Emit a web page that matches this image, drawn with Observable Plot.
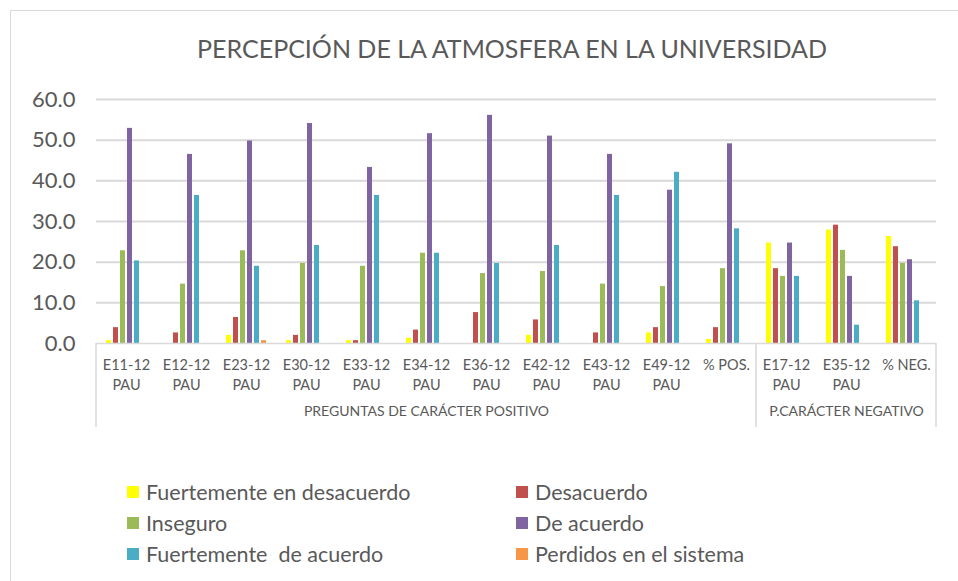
<!DOCTYPE html>
<html>
<head>
<meta charset="utf-8">
<script src="https://cdn.jsdelivr.net/npm/d3@7"></script>
<script src="https://cdn.jsdelivr.net/npm/@observablehq/plot@0.6"></script>
<style>
  html, body { margin: 0; padding: 0; background: #fff; }
  #wrap { position: relative; width: 958px; height: 581px; overflow: hidden; font-family: Lato, "Open Sans", sans-serif; color: #595959; }
  #box { position: absolute; left: 10px; top: 10px; width: 1000px; height: 700px; border-left: 1.5px solid #d9d9d9; border-top: 1.5px solid #d9d9d9; }
  #title { position: absolute; left: 0; width: 1024px; top: 32px; text-align: center; font-size: 25px; line-height: 32px; color: #595959; white-space: nowrap; }
  #chart { position: absolute; left: 0; top: 0; }
  #legend { position: absolute; left: 0; top: 0; }
  .li { position: absolute; display: flex; align-items: center; font-size: 21.5px; color: #595959; white-space: nowrap; height: 28px; }
  .sw { width: 12px; height: 12px; margin-right: 7px; }
</style>
</head>
<body>
<div id="wrap">
  <div id="box"></div>
  <div id="title">PERCEPCIÓN DE LA ATMOSFERA EN LA UNIVERSIDAD</div>
  <div id="chart"></div>
  <div id="legend"></div>
</div>
<script>
const categories = ["E11-12 PAU","E12-12 PAU","E23-12 PAU","E30-12 PAU","E33-12 PAU","E34-12 PAU","E36-12 PAU","E42-12 PAU","E43-12 PAU","E49-12 PAU","% POS.","E17-12 PAU","E35-12 PAU","% NEG."];
const seriesNames = ["Fuertemente en desacuerdo","Desacuerdo","Inseguro","De acuerdo","Fuertemente  de acuerdo","Perdidos en el sistema"];
const seriesColors = ["#FFFF00","#C0504D","#9BBB59","#8064A2","#4BACC6","#F79646"];
const fuertementeDesacuerdo = [0.7,0,2.0,0.7,0.7,1.3,0,2.0,0,2.6,1.0,24.7,27.9,26.3];
const desacuerdo = [3.9,2.6,6.4,2.0,0.7,3.3,7.6,5.8,2.6,3.9,3.9,18.4,29.1,23.8];
const inseguro = [22.8,14.6,22.8,19.7,19.0,22.2,17.2,17.7,14.6,14.0,18.4,16.5,22.9,19.7];
const deAcuerdo = [52.9,46.5,49.8,54.1,43.3,51.6,56.1,51.0,46.5,37.7,49.1,24.7,16.5,20.6];
const fuertementeAcuerdo = [20.3,36.4,19.0,24.1,36.4,22.2,19.7,24.1,36.4,42.1,28.2,16.5,4.5,10.5];
const perdidos = [0,0,0.7,0,0,0,0,0,0,0,0,0,0,0];
const yTicks = [0,10,20,30,40,50,60];
const groups = [
  {label: "PREGUNTAS DE CARÁCTER POSITIVO", center: "E34-12 PAU", first: "E11-12 PAU"},
  {label: "P.CARÁCTER NEGATIVO", center: "E35-12 PAU", first: "E17-12 PAU"}
];

const allSeries = [fuertementeDesacuerdo, desacuerdo, inseguro, deAcuerdo, fuertementeAcuerdo, perdidos];
const data = [];
categories.forEach((c, i) => {
  allSeries.forEach((s, j) => data.push({cat: c, series: seriesNames[j], value: s[i]}));
});

const W = 958, H = 440;
const plot = Plot.plot({
  width: W, height: H,
  marginLeft: 92, marginRight: 18, marginTop: 99, marginBottom: 97,
  style: {fontFamily: "Lato, 'Open Sans', sans-serif", color: "#595959", background: "transparent", overflow: "visible"},
  fx: {domain: categories, padding: 0, axis: null},
  x: {domain: seriesNames, paddingInner: 0.22, paddingOuter: 0.9, axis: null},
  y: {domain: [0, 60], ticks: yTicks, tickFormat: d3.format(".1f"), label: null},
  color: {domain: seriesNames, range: seriesColors},
  marks: [
    Plot.ruleY(yTicks.filter(d => d > 0), {stroke: "#d9d9d9", strokeWidth: 2}),
    Plot.axisY(yTicks, {tickSize: 0, tickPadding: 21, fontSize: 22, fill: "#595959", facetAnchor: "left", label: null, tickFormat: d3.format(".1f")}),
    Plot.barY(data, {fx: "cat", x: "series", y: "value", fill: "series"}),
    Plot.ruleY([0], {stroke: "#d9d9d9", strokeWidth: 1.5}),
    Plot.text(categories, {fx: d => d, text: d => d.replace(" PAU", "\nPAU"), frameAnchor: "bottom", lineAnchor: "top", dy: 12, lineHeight: 1.4, fontSize: 14.5, fill: "#595959"}),
    Plot.text(groups, {fx: "center", text: "label", frameAnchor: "bottom", lineAnchor: "top", dy: 63, fontSize: 14, fill: "#595959"})
  ]
});
document.getElementById("chart").appendChild(plot);

// hierarchical axis separators, positioned with the fx scale
const fx = plot.scale("fx");
const svg = d3.select(plot);
const y0 = H - 97;
const sepX = [fx.apply(categories[0]), fx.apply("E17-12 PAU"), fx.apply(categories[categories.length - 1]) + fx.bandwidth];
svg.append("g").selectAll("line").data(sepX).join("line")
  .attr("x1", d => d).attr("x2", d => d)
  .attr("y1", y0).attr("y2", y0 + 84)
  .attr("stroke", "#d9d9d9").attr("stroke-width", 1.5);

// legend
const leg = document.getElementById("legend");
const pos = [[127, 492], [516, 492], [127, 523], [516, 523], [127, 554], [516, 554]];
seriesNames.forEach((n, i) => {
  const el = document.createElement("div");
  el.className = "li";
  el.style.left = pos[i][0] + "px";
  el.style.top = (pos[i][1] - 14) + "px";
  el.innerHTML = `<span class="sw" style="background:${seriesColors[i]}"></span><span>${n.replace(/  /g, "&nbsp; ")}</span>`;
  leg.appendChild(el);
});
</script>
</body>
</html>
